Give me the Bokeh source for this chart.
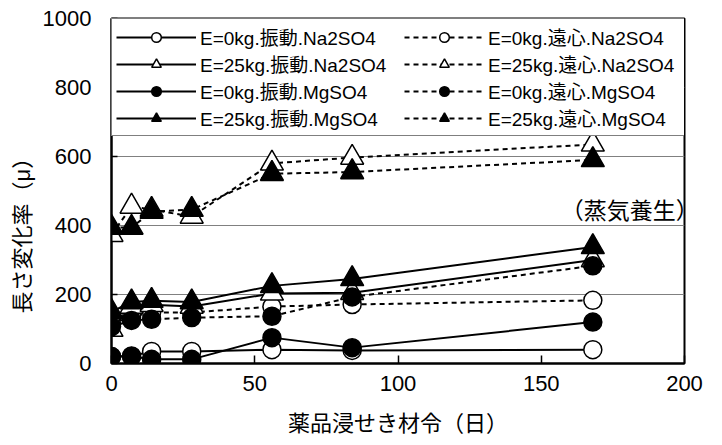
import math
from bokeh.plotting import figure
from bokeh.models import Range1d, Legend, LegendItem, Label, FixedTicker, Title
from bokeh.embed import file_html
from bokeh.resources import INLINE

# ---------------- data ----------------
days = [0, 7, 14, 28, 56, 84, 168]

e0_vib_na = [20, 22, 35, 35, 40, 38, 40]
e0_cen_na = [115, 135, 148, 148, 165, 171, 183]
e25_vib_na = [98, 165, 170, 165, 203, 205, 300]
e25_cen_na = [373, 455, 446, 426, 580, 597, 635]
e0_vib_mg = [20, 20, 12, 12, 75, 46, 120]
e0_cen_mg = [107, 125, 128, 133, 137, 193, 283]
e25_vib_mg = [150, 178, 182, 178, 225, 245, 338]
e25_cen_mg = [394, 394, 440, 446, 550, 555, 590]

labels = {
    "e0_vib_na": "E=0kg.振動.Na2SO4",
    "e0_cen_na": "E=0kg.遠心.Na2SO4",
    "e25_vib_na": "E=25kg.振動.Na2SO4",
    "e25_cen_na": "E=25kg.遠心.Na2SO4",
    "e0_vib_mg": "E=0kg.振動.MgSO4",
    "e0_cen_mg": "E=0kg.遠心.MgSO4",
    "e25_vib_mg": "E=25kg.振動.MgSO4",
    "e25_cen_mg": "E=25kg.遠心.MgSO4",
}

x_ticks = [0, 50, 100, 150, 200]
y_ticks = [0, 200, 400, 600, 800, 1000]

x_title = "薬品浸せき材令（日）"
y_title = "長さ変化率（μ）"
note = "（蒸気養生）"

# ---------------- styling ----------------
FONT = "Liberation Sans, Noto Sans CJK JP"
CJK = "Noto Sans CJK JP"
W, H = 706, 443
B_LEFT, B_RIGHT, B_TOP, B_BOTTOM = 111, 22, 18, 80

p = figure(width=W, height=H, output_backend="svg", toolbar_location=None,
           x_range=Range1d(0, 200), y_range=Range1d(0, 1000),
           min_border_left=B_LEFT, min_border_right=B_RIGHT,
           min_border_top=B_TOP, min_border_bottom=B_BOTTOM)
p.background_fill_color = "white"
p.border_fill_color = "white"
p.outline_line_color = "black"
p.outline_line_width = 2

p.xgrid.visible = False
p.ygrid.grid_line_color = "#808080"
p.ygrid.grid_line_width = 1

p.xaxis.ticker = FixedTicker(ticks=x_ticks)
p.yaxis.ticker = FixedTicker(ticks=y_ticks)
for ax in (p.xaxis[0], p.yaxis[0]):
    ax.axis_line_color = "black"
    ax.axis_line_width = 2
    ax.major_tick_line_color = "black"
    ax.major_tick_line_width = 1.5
    ax.major_tick_out = 0
    ax.minor_tick_line_color = None
    ax.major_label_text_font = FONT
    ax.major_label_text_font_size = "22px"
    ax.major_label_text_color = "black"
p.xaxis.major_tick_in = 8
p.yaxis.major_tick_in = 6
p.xaxis.major_label_standoff = 12
p.yaxis.major_label_standoff = 20

p.xaxis.axis_label = x_title
p.xaxis.axis_label_text_font = FONT
p.xaxis.axis_label_text_font_size = "22px"
p.xaxis.axis_label_text_font_style = "normal"
p.xaxis.axis_label_text_color = "black"
p.xaxis.axis_label_standoff = 17

series = [
    ("e0_vib_na", e0_vib_na, False, "circle", False),
    ("e0_cen_na", e0_cen_na, True, "circle", False),
    ("e25_vib_na", e25_vib_na, False, "triangle", False),
    ("e25_cen_na", e25_cen_na, True, "triangle", False),
    ("e0_vib_mg", e0_vib_mg, False, "circle", True),
    ("e0_cen_mg", e0_cen_mg, True, "circle", True),
    ("e25_vib_mg", e25_vib_mg, False, "triangle", True),
    ("e25_cen_mg", e25_cen_mg, True, "triangle", True),
]

rend = {}
for key, vals, dashed, marker, filled in series:
    lr = p.line(days, vals, line_color="black", line_width=2,
                line_dash="5 4" if dashed else "solid")
    sr = p.scatter(days, vals, marker=marker,
                   size=23 if marker == "triangle" else 18,
                   fill_color="black" if filled else "white",
                   line_color="black", line_width=1.5)
    rend[key] = [lr, sr]

legend_order = ["e0_vib_na", "e25_vib_na", "e0_vib_mg", "e25_vib_mg",
                "e0_cen_na", "e25_cen_na", "e0_cen_mg", "e25_cen_mg"]
legend = Legend(items=[LegendItem(label=labels[k], renderers=rend[k]) for k in legend_order],
                location="top_left", margin=0, ncols=2,
                padding=4, spacing=0, glyph_width=80, glyph_height=24,
                label_height=20, label_width=204, label_standoff=4,
                label_text_font=FONT, label_text_font_size="19px",
                label_text_color="black",
                border_line_color="black", border_line_width=1.5,
                background_fill_color="white", background_fill_alpha=1)
p.add_layout(legend)

p.add_layout(Label(x=205, y=449, text=note, text_align="right", text_baseline="middle",
                   text_font=CJK, text_font_size="23px", text_color="black"))

p.add_layout(Title(text=y_title, align="left", offset=50, standoff=10,
                   text_font=FONT, text_font_size="22px", text_font_style="normal",
                   text_color="black"), "left")

open("out.html", "w").write(file_html(p, INLINE))
